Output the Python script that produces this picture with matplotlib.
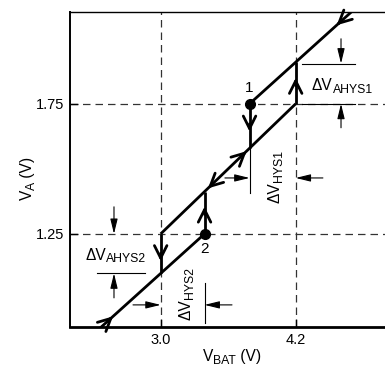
import matplotlib
matplotlib.use("Agg")
import matplotlib.pyplot as plt
from matplotlib.transforms import IdentityTransform, offset_copy

plt.rcParams["font.family"] = ["Liberation Sans", "DejaVu Sans"]

# ---- data ----
x_ticks = [3.0, 4.2]
x_ticklabels = ["3.0", "4.2"]
y_ticks = [1.25, 1.75]
y_ticklabels = ["1.25", "1.75"]

# three parallel transfer lines (V_BAT, V_A)
lower_x = [2.40, 3.39]
lower_y = [0.864, 1.25]
middle_x = [3.0, 4.2]
middle_y = [1.25, 1.75]
upper_x = [3.79, 4.82]
upper_y = [1.75, 2.152]

# vertical jumps: x, from, to
jump_x = [3.0, 3.39, 3.79, 4.2]
jump_from = [1.25, 1.25, 1.75, 1.75]
jump_to = [1.098, 1.412, 1.579, 1.91]

# marked points
pts_x = [3.79, 3.39]
pts_y = [1.75, 1.25]
pts_lbl = ["1", "2"]

# chevron arrows: tip position and direction (dx, dy)
chev_x = [2.577, 3.42, 3.764, 4.564, 3.0, 3.39, 3.79, 4.2]
chev_y = [0.933, 1.425, 1.568, 2.052, 1.145, 1.355, 1.643, 1.85]
chev_dx = [1, -1, 1, -1, 0, 0, 0, 0]
chev_dy = [0.4, -0.4, 0.4, -0.4, -1, 1, -1, 1]

fig = plt.figure(figsize=(3.85, 3.66), dpi=100)
ax = fig.add_axes([70 / 385, 1 - 327 / 366, 315 / 385, 315 / 366])
ax.set_xlim(2.194, 4.994)
ax.set_ylim(0.892, 2.103)

dash = dict(color="#333333", lw=0.9, ls=(0, (6, 4)), zorder=1)
for xv in x_ticks:
    ax.axvline(xv, **dash)
for yv in y_ticks:
    ax.axhline(yv, **dash)

lw = 2.0
for xs, ys in [(lower_x, lower_y), (middle_x, middle_y), (upper_x, upper_y)]:
    ax.plot(xs, ys, color="black", lw=lw, solid_capstyle="butt", zorder=3)
for xv, y0, y1 in zip(jump_x, jump_from, jump_to):
    ax.plot([xv, xv], [y0, y1], color="black", lw=lw, solid_capstyle="butt", zorder=3)

ax.plot(pts_x, pts_y, "o", color="black", ms=7, zorder=4)
ax.text(pts_x[0], pts_y[0] + 0.06, pts_lbl[0], ha="center", va="center", fontsize=11)
ax.text(pts_x[1], pts_y[1] - 0.06, pts_lbl[1], ha="center", va="center", fontsize=11)

for x, y, dx, dy in zip(chev_x, chev_y, chev_dx, chev_dy):
    ax.annotate("", xy=(x, y), xytext=(x - 0.03 * dx, y - 0.03 * dy),
                arrowprops=dict(arrowstyle="->,head_length=0.9,head_width=0.45",
                                lw=2.0, color="black", shrinkA=0, shrinkB=0),
                zorder=5)


def dim_arrow(x0, y0, x1, y1):
    ax.annotate("", xy=(x1, y1), xytext=(x0, y0),
                arrowprops=dict(arrowstyle="-|>,head_length=0.9,head_width=0.22",
                                lw=0.8, color="black", shrinkA=0, shrinkB=0,
                                mutation_scale=10))


renderer = fig.canvas.get_renderer()


def label(x, y, parts, transform, rot=0, size=11.2, subsize=8.8, drop=1.8):
    # chain of (text, is_subscript) pieces, left/baseline anchored at x, y
    adv = 0.0
    for txt, is_sub in parts:
        shift = -drop if is_sub else 0.0
        if rot == 0:
            tr = offset_copy(transform, fig, x=adv, y=shift, units="points")
        else:
            tr = offset_copy(transform, fig, x=-shift, y=adv, units="points")
        t = fig.text(x, y, txt, transform=tr, rotation=rot, rotation_mode="anchor",
                     ha="left", va="baseline", fontsize=subsize if is_sub else size)
        bb = t.get_window_extent(renderer)
        adv += (bb.width if rot == 0 else bb.height) * 72 / fig.dpi


thin = dict(color="black", lw=0.8)

# delta V_AHYS1
ax.plot([4.256, 4.727], [1.905, 1.905], **thin)
ax.plot([4.256, 4.727], [1.75, 1.75], **thin)
dim_arrow(4.603, 2.0, 4.603, 1.905)
dim_arrow(4.603, 1.658, 4.603, 1.75)
label(4.345, 1.802, [("\u0394V", False), ("AHYS1", True)], ax.transData)

# delta V_HYS1
ax.plot([3.79, 3.79], [1.579, 1.408], **thin)
dim_arrow(3.571, 1.465, 3.79, 1.465)
dim_arrow(4.442, 1.465, 4.2, 1.465)
label(4.06, 1.369, [("\u0394V", False), ("HYS1", True)], ax.transData, rot=90)

# delta V_AHYS2
ax.plot([2.434, 2.86], [1.098, 1.098], **thin)
dim_arrow(2.585, 1.354, 2.585, 1.25)
dim_arrow(2.585, 1.004, 2.585, 1.098)
label(2.33, 1.15, [("\u0394V", False), ("AHYS2", True)], ax.transData)

# delta V_HYS2
ax.plot([3.39, 3.39], [1.062, 0.908], **thin)
dim_arrow(2.754, 0.977, 3.0, 0.977)
dim_arrow(3.634, 0.977, 3.39, 0.977)
label(3.269, 0.919, [("\u0394V", False), ("HYS2", True)], ax.transData, rot=90)

ax.set_xticks(x_ticks)
ax.set_xticklabels(x_ticklabels)
ax.set_yticks(y_ticks)
ax.set_yticklabels(y_ticklabels)
ax.tick_params(direction="in", length=6, width=1, labelsize=10.5, pad=4)
ax.spines["right"].set_visible(False)
ax.spines["bottom"].set_linewidth(2.0)
ax.spines["left"].set_linewidth(1.4)
ax.spines["top"].set_linewidth(1.0)

# axis titles, placed in output pixels
H = 366
label(203, H - 361, [("V", False), ("BAT", True), (" (V)", False)], IdentityTransform())
label(32, H - 200, [("V", False), ("A", True), (" (V)", False)], IdentityTransform(), rot=90)

fig.savefig("out.png", dpi=100)
